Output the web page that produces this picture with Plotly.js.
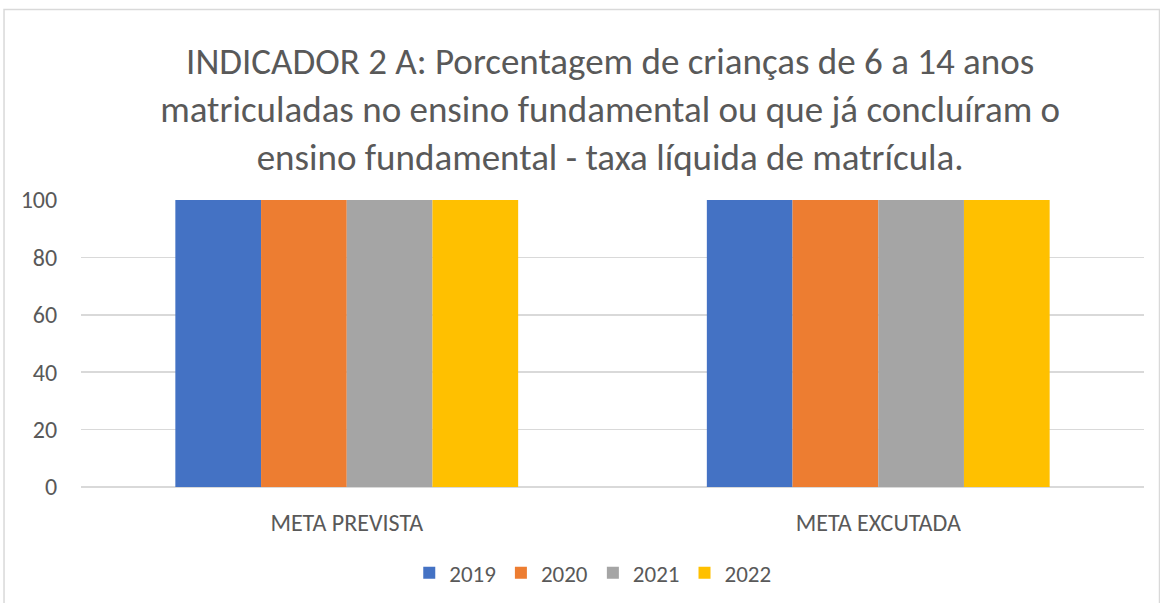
<!DOCTYPE html>
<html><head><meta charset="utf-8">
<script src="https://cdn.plot.ly/plotly-3.0.1.min.js"></script>
<style>html,body{margin:0;padding:0;background:#fff}#c{width:1160px;height:603px}</style>
</head><body><div id="c"></div>
<script>
const categories = ["META PREVISTA", "META EXCUTADA"];
const years = ["2019", "2020", "2021", "2022"];
const v2019 = [100, 100];
const v2020 = [100, 100];
const v2021 = [100, 100];
const v2022 = [100, 100];
const colors = ["#4472C4", "#ED7D31", "#A5A5A5", "#FFC000"];
const series = [v2019, v2020, v2021, v2022];
const FONT = "Carlito, Calibri, 'Open Sans', sans-serif";
const traces = series.map((vals, i) => ({
  type: "bar", name: years[i], x: categories, y: vals,
  marker: {color: colors[i]}, hoverinfo: "none"
}));
const layout = {
  width: 1160, height: 603,
  margin: {l: 81, r: 16, t: 200, b: 116},
  paper_bgcolor: "#fff", plot_bgcolor: "#fff",
  font: {family: FONT, color: "#595959", size: 24},
  title: {
    text: "INDICADOR 2 A: Porcentagem de crianças de 6 a 14 anos<br>matriculadas no ensino fundamental ou que já concluíram o<br>ensino fundamental - taxa líquida de matrícula.",
    font: {family: FONT, size: 37, color: "#595959"},
    x: 0.526, xanchor: "center", y: 0.877, yanchor: "top"
  },
  barmode: "group", bargap: 0.355, bargroupgap: 0,
  xaxis: {showgrid: false, showline: false, zeroline: false, ticks: "outside", ticklen: 14, tickcolor: "rgba(0,0,0,0)", tickfont: {size: 24}},
  yaxis: {range: [0, 100], dtick: 20, gridcolor: "#d9d9d9", gridwidth: 1.5, zeroline: true, zerolinecolor: "#d9d9d9", zerolinewidth: 1.5, showline: false, ticks: "outside", ticklen: 18, tickcolor: "rgba(0,0,0,0)", tickfont: {size: 24}},
  showlegend: true,
  legend: {orientation: "h", xref: "container", x: 0.511, xanchor: "center", yref: "container", y: 0.05, yanchor: "middle", font: {size: 23}, traceorder: "normal", itemwidth: 30},
  shapes: [{type: "rect", xref: "paper", yref: "paper", x0: -0.0724, x1: 1.0146, y0: -0.42, y1: 1.6638, line: {color: "#d9d9d9", width: 1.5}, fillcolor: "rgba(0,0,0,0)", layer: "below"}]
};
Plotly.newPlot("c", traces, layout, {displayModeBar: false, staticPlot: true});
</script></body></html>
